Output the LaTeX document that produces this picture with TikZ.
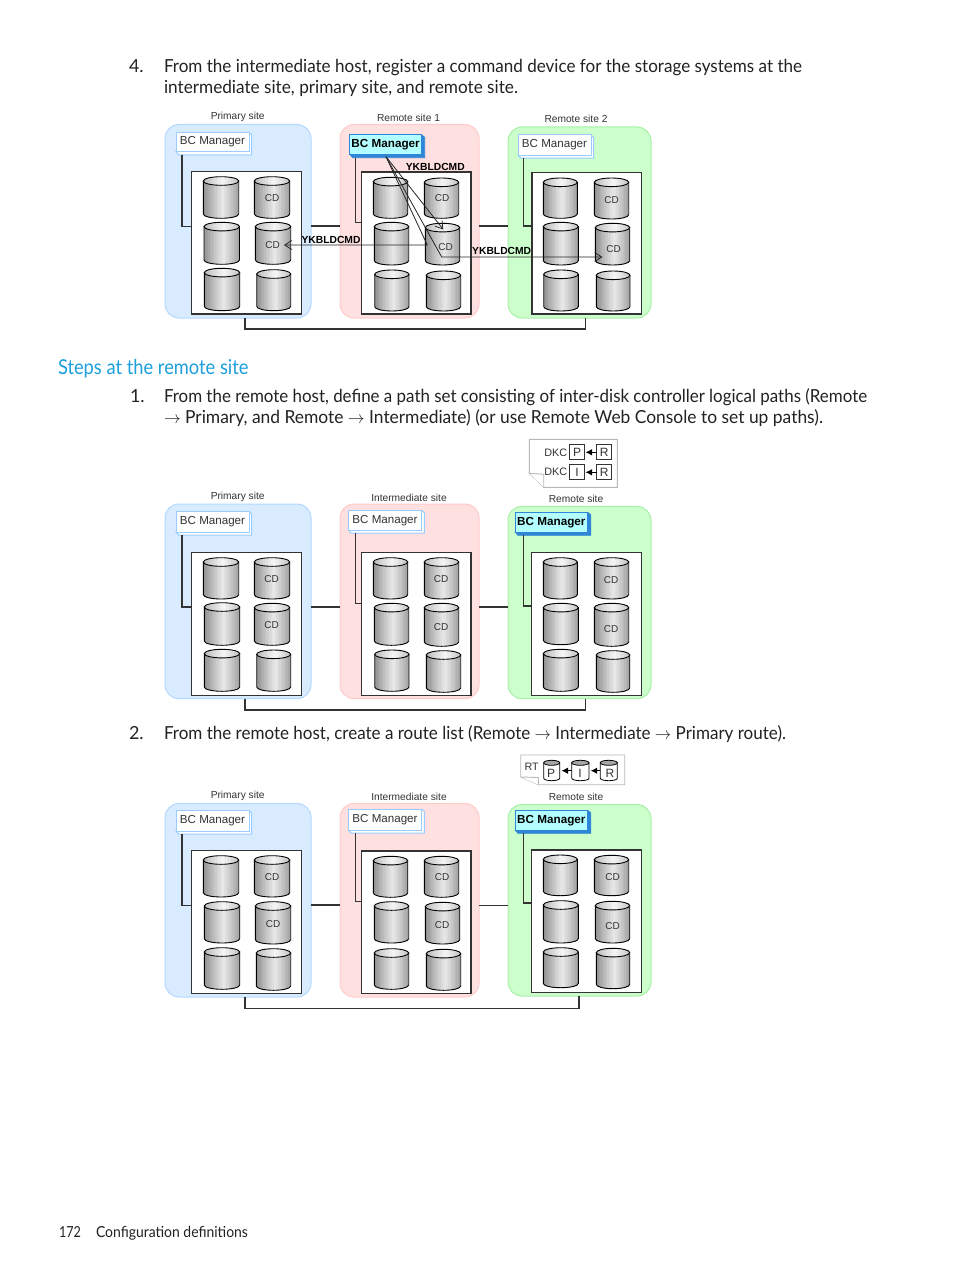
\documentclass[tikz,border=0pt]{standalone}
\usepackage{fontspec}
\usepackage{graphicx}
\usetikzlibrary{arrows.meta}
\setmainfont{Lato}
\newfontfamily\arialf{Liberation Sans}
\definecolor{txt}{HTML}{222222}
\definecolor{hpblue}{HTML}{1C9FDC}
\definecolor{linec}{HTML}{333333}
\tikzset{
  tl/.style={anchor=base west,inner sep=0pt,outer sep=0pt,text=txt,font=\fontsize{18}{18}\selectfont},
  site/.style={rounded corners=14pt,line width=1pt,inner sep=0pt,outer sep=0pt,anchor=north west},
  siteB/.style={site,fill=blueF,draw=blueD},
  siteR/.style={site,fill=redF,draw=redD},
  siteG/.style={site,fill=greenF,draw=greenD},
  inner/.style={draw=linec,fill=white,line width=1.2pt,inner sep=0pt,outer sep=0pt,anchor=north west},
  bcp/.style={draw=bcline,fill=white,line width=1pt,inner sep=0pt,outer sep=0pt,anchor=north west,text=linec,font=\arialf\fontsize{11.6}{12}\selectfont},
  bcb/.style={draw=bcdark,fill=bccyan,line width=.8pt,inner sep=0pt,outer sep=0pt,anchor=north west,text=black,font=\arialf\bfseries\fontsize{11.7}{12}\selectfont},
  slabel/.style={inner sep=0pt,text=linec,font=\arialf\fontsize{10.2}{11}\selectfont},
  cdl/.style={inner sep=0pt,text=linec,font=\arialf\fontsize{10}{11}\selectfont},
  ykb/.style={inner sep=0pt,text=black,font=\arialf\bfseries\fontsize{10.3}{11}\selectfont},
  cylline/.style={draw=black,line width=.9pt},
  sbody/.style={draw=black,line width=.8pt,fill=white},
  stop/.style={draw=black,line width=.8pt,fill=black!35},
  conn/.style={draw=linec,line width=1.1pt},
  linkthick/.style={draw=linec,line width=1.6pt},
  cmd/.style={draw=black!85,line width=.8pt},
  cmdarrow/.style={cmd,-{Straight Barb[length=7pt,width=9pt,line width=.8pt]}},
  note/.style={draw=black!28,line width=.9pt,fill=white},
  cell/.style={draw=linec,line width=.9pt,fill=white,inner sep=0pt,outer sep=0pt,minimum width=15pt,minimum height=15pt,text=linec,font=\arialf\fontsize{12}{12}\selectfont},
  solidarrow/.style={draw=black,line width=.9pt,-{Latex[length=6.5pt,width=6.5pt]},shorten >=1pt},
}
\definecolor{blueF}{HTML}{D9EBFF}
\definecolor{blueD}{HTML}{B4D9FF}
\definecolor{redF}{HTML}{FFE0E0}
\definecolor{redD}{HTML}{FFCACA}
\definecolor{greenF}{HTML}{CCFFCC}
\definecolor{greenD}{HTML}{A8F0A8}
\definecolor{bcline}{HTML}{99CCFF}
\definecolor{bcdark}{HTML}{2F86D6}
\definecolor{bccyan}{HTML}{B3FFFF}
% box node: style, name, x0, y0, x1, y1, text
\newcommand{\boxn}[7]{%
  \pgfmathsetmacro{\bw}{#5-#3}\pgfmathsetmacro{\bh}{#6-#4}%
  \node[#1,minimum width=\bw pt,minimum height=\bh pt] (#2) at (#3,#4) {#7};}
% vertical strips: x0 x1 y0 y1 edge-darkness peak-darkness
\newcommand{\stripes}[6]{%
  \foreach \i in {0,...,23}{%
    \pgfmathsetmacro{\tv}{\i/24}%
    \pgfmathsetmacro{\dd}{#6+(#5-#6)*pow(abs(\tv+0.02-0.55)/0.55,1.1)}%
    \pgfmathsetmacro{\xx}{#1+\tv*(#2-#1)}%
    \fill[black!\dd] (\xx,#3) rectangle (#2,#4);
  }}
% cylinder: ry, x0, x1, top, bottom
\newcommand{\dcyl}[5]{%
  \pgfmathsetmacro{\cx}{(#2+#3)/2}%
  \pgfmathsetmacro{\kx}{0.5523*(#3-#2)/2}%
  \pgfmathsetmacro{\ky}{0.5523*#1}%
  \pgfmathsetmacro{\ya}{#4+#1}%
  \pgfmathsetmacro{\yb}{#5-#1}%
  \pgfmathsetmacro{\yc}{#4+2*#1}%
  \def\bodyp{(#2,\ya) -- (#2,\yb) .. controls (#2,\yb+\ky) and (\cx-\kx,#5) .. (\cx,#5)
     .. controls (\cx+\kx,#5) and (#3,\yb+\ky) .. (#3,\yb) -- (#3,\ya) -- cycle}%
  \def\topp{(#2,\ya) .. controls (#2,\ya-\ky) and (\cx-\kx,#4) .. (\cx,#4)
     .. controls (\cx+\kx,#4) and (#3,\ya-\ky) .. (#3,\ya)
     .. controls (#3,\ya+\ky) and (\cx+\kx,\yc) .. (\cx,\yc)
     .. controls (\cx-\kx,\yc) and (#2,\ya+\ky) .. (#2,\ya) -- cycle}%
  \begin{scope}\clip \bodyp;\stripes{#2}{#3}{#4}{#5}{44}{9}\end{scope}
  \path[cylline] \bodyp;
  \begin{scope}\clip \topp;\stripes{#2}{#3}{#4}{#5}{28}{4}\end{scope}
  \path[cylline] \topp;}
\newcommand{\bigc}[4]{\dcyl{4.3}{#1}{#2}{#3}{#4}}
% small cylinder: x0 x1 top bottom
\newcommand{\smallc}[4]{%
  \pgfmathsetmacro{\cx}{(#1+#2)/2}%
  \pgfmathsetmacro{\kx}{0.5523*(#2-#1)/2}%
  \pgfmathsetmacro{\ya}{#3+2.5}%
  \pgfmathsetmacro{\yb}{#4-2.5}%
  \pgfmathsetmacro{\yc}{#3+5}%
  \path[sbody] (#1,\ya) -- (#1,\yb) .. controls (#1,\yb+1.4) and (\cx-\kx,#4) .. (\cx,#4)
     .. controls (\cx+\kx,#4) and (#2,\yb+1.4) .. (#2,\yb) -- (#2,\ya) -- cycle;
  \path[stop] (#1,\ya) .. controls (#1,\ya-1.4) and (\cx-\kx,#3) .. (\cx,#3)
     .. controls (\cx+\kx,#3) and (#2,\ya-1.4) .. (#2,\ya)
     .. controls (#2,\ya+1.4) and (\cx+\kx,\yc) .. (\cx,\yc)
     .. controls (\cx-\kx,\yc) and (#1,\ya+1.4) .. (#1,\ya) -- cycle;}
% plain BC manager: name x0 y0 x1 y1
\newcommand{\bcplain}[5]{%
  \pgfmathsetmacro{\xs}{#4+2.7}\pgfmathsetmacro{\ys}{#5+3.2}\pgfmathsetmacro{\xt}{#2+3}\pgfmathsetmacro{\yt}{#3+2.5}%
  \path[draw=bcline,fill=white,line width=1pt] (#4,#3) -- (\xs,\yt) -- (\xs,\ys) -- (\xt,\ys) -- (#2,#5) -- cycle;
  \boxn{bcp}{#1}{#2}{#3}{#4}{#5}{BC Manager}}
\newcommand{\bcbold}[5]{%
  \pgfmathsetmacro{\xs}{#4+3.2}\pgfmathsetmacro{\ys}{#5+3.4}\pgfmathsetmacro{\xt}{#2+3}\pgfmathsetmacro{\yt}{#3+2.5}%
  \path[draw=bcdark,fill=bcdark,line width=.6pt] (#4,#3) -- (\xs,\yt) -- (\xs,\ys) -- (\xt,\ys) -- (#2,#5) -- cycle;
  \boxn{bcb}{#1}{#2}{#3}{#4}{#5}{BC Manager}}
\newcommand{\arr}{$\rightarrow$}
\begin{document}
\begin{tikzpicture}[x=1pt,y=-1pt]
\useasboundingbox (0,0) rectangle (954,1271);
\fill[white] (0,0) rectangle (954,1271);
% ---------- text ----------
\node[tl] (n4) at (129,73) {4.};
\node[tl] (t1) at (164,73) {\resizebox{638pt}{\height}{From the intermediate host, register a command device for the storage systems at the}};
\node[tl] (t2) at (164,94) {\resizebox{354pt}{\height}{intermediate site, primary site, and remote site.}};
\node[tl,text=hpblue,font=\fontsize{20.5}{21}\selectfont] (h1) at (58,374.5) {\resizebox{190.5pt}{\height}{Steps at the remote site}};
\node[tl] (n1) at (130,402) {1.};
\node[tl] (t3) at (164,402) {\resizebox{703pt}{\height}{From the remote host, define a path set consisting of inter-disk controller logical paths (Remote}};
\node[tl] (t4) at (164,423) {\resizebox{659pt}{\height}{\arr{} Primary, and Remote \arr{} Intermediate) (or use Remote Web Console to set up paths).}};
\node[tl] (n2) at (129,739) {2.};
\node[tl] (t5) at (164,739) {\resizebox{622pt}{\height}{From the remote host, create a route list (Remote \arr{} Intermediate \arr{} Primary route).}};
\node[tl,font=\fontsize{15.2}{16}\selectfont] (pg) at (59,1237.5) {\resizebox{22pt}{\height}{172}};
\node[tl,font=\fontsize{15.2}{16}\selectfont] (ft) at (96,1237.5) {\resizebox{152pt}{\height}{Configuration definitions}};
% ========== PANEL 1 ==========
\node[slabel] (l1a) at (237.7,117) {Primary site};
\node[slabel] (l1b) at (408.5,117.5) {Remote site 1};
\node[slabel] (l1c) at (576,118.5) {Remote site 2};
\boxn{siteB}{s1a}{165}{124.5}{311}{318}{}
\boxn{siteR}{s1b}{340}{124.5}{479}{318}{}
\boxn{siteG}{s1c}{508}{127}{651}{318}{}
\draw[linkthick] (s1a.east |- 0,226) -- (s1b.west |- 0,226);
\draw[linkthick] (s1b.east |- 0,226) -- (s1c.west |- 0,226);
\coordinate (b1a) at (245,318); \coordinate (b1c) at (585.3,318);
\draw[linkthick] (b1a) -- (245,329) -- (585.3,329) -- (b1c);
\boxn{inner}{i1a}{191.5}{171.5}{301.5}{314}{}
\boxn{inner}{i1b}{361.5}{172}{471}{314}{}
\boxn{inner}{i1c}{532}{172.5}{641.3}{314}{}
\bcplain{m1a}{176}{132.3}{249}{151.7}
\bcbold{m1b}{349.7}{134.7}{421.5}{154.3}
\bcplain{m1c}{518}{135}{591}{155}
\coordinate (c1a) at (182,155); \coordinate (c1b) at (355.7,157.5); \coordinate (c1c) at (523.3,158);
\draw[conn] (c1a) |- (i1a.west |- 0,226.5);
\draw[conn] (c1b) |- (i1b.west |- 0,222.7);
\draw[conn] (c1c) |- (i1c.west |- 0,226);
\bigc{203.3}{238.7}{176.7}{218.3}\bigc{254.3}{289.7}{176.7}{218.3}
\bigc{204}{239.5}{222.3}{264.3}\bigc{255.3}{290.7}{222.3}{264.3}
\bigc{204.3}{239.7}{268.3}{310.7}\bigc{256.7}{290.7}{269.7}{310.7}
\bigc{373.3}{407.7}{177.3}{218.3}\bigc{424.3}{458.7}{178}{218.3}
\bigc{374.3}{408.7}{222.3}{265}\bigc{425.3}{459.7}{223.3}{265}
\bigc{374.7}{409}{270}{311}\bigc{426.3}{460.7}{271}{311}
\bigc{543.3}{577.3}{178}{218.3}\bigc{594.3}{628.7}{178}{219}
\bigc{543.3}{578.3}{222.3}{265}\bigc{595.3}{629.7}{223.3}{265}
\bigc{543.7}{578.3}{270}{311}\bigc{596.3}{630}{271}{311}
\node[cdl] (cd1) at (272,198.5) {CD};
\node[cdl] (cd2) at (272.7,245) {CD};
\node[cdl] (cd3) at (442,198.5) {CD};
\node[cdl] (cd4) at (445.7,247) {CD};
\node[cdl] (cd5) at (611.7,199.8) {CD};
\node[cdl] (cd6) at (613.7,248.8) {CD};
\coordinate (src) at (386,156.7);
\coordinate (ta) at (443.3,229.5);
\coordinate (tb) at (427.3,245);
\coordinate (tc) at (441.7,257);
\coordinate (tlft) at (284,245);
\coordinate (trgt) at (602.5,257);
\draw[cmdarrow] (src) -- (ta);
\draw[cmdarrow] (src) -- (tb) -- (tlft);
\draw[cmdarrow] (src) -- (tc) -- (trgt);
\node[ykb] (y1) at (435.3,166.8) {YKBLDCMD};
\node[ykb] (y2) at (331,239.8) {YKBLDCMD};
\node[ykb] (y3) at (501.7,251.2) {YKBLDCMD};
% ========== PANEL 2 ==========
\path[note] (529.3,439.3) -- (617.3,439.3) -- (617.3,487.3) -- (543.7,487.3) -- (529.3,473.3) -- cycle;
\path[note] (529.3,473.3) -- (543.7,474.3) -- (543.7,487.3);
\node[cdl,font=\arialf\fontsize{10.8}{11}\selectfont] (d1) at (555.7,452.5) {DKC};
\node[cdl,font=\arialf\fontsize{10.8}{11}\selectfont] (d2) at (555.7,472.2) {DKC};
\node[cell] (p1) at (577,452.3) {P};
\node[cell] (r1) at (604.3,452.3) {R};
\node[cell] (p2) at (577,472.3) {I};
\node[cell] (r2) at (604.3,472.3) {R};
\draw[solidarrow] (r1) -- (p1);
\draw[solidarrow] (r2) -- (p2);
\node[slabel] (l2a) at (237.7,497) {Primary site};
\node[slabel] (l2b) at (409,497.5) {Intermediate site};
\node[slabel] (l2c) at (576,498.5) {Remote site};
\boxn{siteB}{s2a}{165}{504}{311}{698.7}{}
\boxn{siteR}{s2b}{340}{504}{479}{698.7}{}
\boxn{siteG}{s2c}{508}{506.3}{651}{698.7}{}
\draw[linkthick] (s2a.east |- 0,607) -- (s2b.west |- 0,607);
\draw[linkthick] (s2b.east |- 0,607) -- (s2c.west |- 0,607);
\coordinate (b2a) at (245,698.7); \coordinate (b2c) at (585.3,698.7);
\draw[linkthick] (b2a) -- (245,710) -- (585.3,710) -- (b2c);
\boxn{inner}{i2a}{191.5}{552.3}{301.5}{695.3}{}
\boxn{inner}{i2b}{361.5}{552.7}{471}{695.3}{}
\boxn{inner}{i2c}{531.7}{552.7}{641.3}{695.3}{}
\bcplain{m2a}{176}{511.7}{249}{532}
\bcplain{m2b}{348.3}{510.3}{421.7}{530}
\bcbold{m2c}{515}{512.3}{587.7}{532}
\coordinate (c2a) at (182,535); \coordinate (c2b) at (355.7,533); \coordinate (c2c) at (523.3,535);
\draw[conn] (c2a) |- (i2a.west |- 0,607);
\draw[conn] (c2b) |- (i2b.west |- 0,603.3);
\draw[conn] (c2c) |- (i2c.west |- 0,606);
\bigc{203.3}{238.7}{557.7}{599}\bigc{254.3}{289.7}{557.7}{599}
\bigc{204.3}{239.7}{602.7}{645.3}\bigc{254.3}{289.7}{603.3}{645.3}
\bigc{204.3}{239.7}{649.3}{691.3}\bigc{256.7}{290.7}{650}{691.3}
\bigc{373.3}{407.7}{557.7}{599}\bigc{424.3}{458.7}{557.7}{599}
\bigc{374.3}{408.7}{603.3}{645.3}\bigc{424.3}{458.7}{603.3}{646.3}
\bigc{374.7}{409}{650}{691.3}\bigc{426.3}{460.7}{650.7}{692.3}
\bigc{543.3}{577.3}{557.7}{599}\bigc{594.3}{628.7}{557.7}{599}
\bigc{543.3}{578.3}{603.3}{644.7}\bigc{594.3}{628.7}{603.3}{646.3}
\bigc{543.3}{578.3}{649.3}{691.3}\bigc{596.3}{629.7}{650.7}{692.3}
\node[cdl] (cd7) at (271.5,579.5) {CD};
\node[cdl] (cd8) at (271.5,625.5) {CD};
\node[cdl] (cd9) at (441,579.5) {CD};
\node[cdl] (cd10) at (441,627.5) {CD};
\node[cdl] (cd11) at (611,580.5) {CD};
\node[cdl] (cd12) at (611,629) {CD};
% ========== PANEL 3 ==========
\path[note] (520.7,755) -- (624.7,755) -- (624.7,784.7) -- (538.3,784.7) -- (520.7,777) -- cycle;
\path[note] (520.7,777) -- (538.3,777.5) -- (538.3,784.7);
\node[cdl,font=\arialf\fontsize{10.8}{11}\selectfont] (rt) at (531.7,766.5) {RT};
\smallc{543.7}{559.7}{760.3}{780.7}
\smallc{571.7}{589}{760.3}{780.7}
\smallc{600.3}{617.3}{760.3}{780.7}
\node[cdl,font=\arialf\fontsize{12}{12}\selectfont] (sp) at (551,773.5) {P};
\node[cdl,font=\arialf\fontsize{12}{12}\selectfont] (si) at (580,773.5) {I};
\node[cdl,font=\arialf\fontsize{12}{12}\selectfont] (sr) at (610,773.5) {R};
\coordinate (qa) at (560.5,770.7); \coordinate (qb) at (571.7,770.7); \coordinate (qc) at (589.7,770.7); \coordinate (qd) at (600.3,770.7);
\draw[solidarrow] (qb) -- (qa);
\draw[solidarrow] (qd) -- (qc);
\node[slabel] (l3a) at (237.7,796) {Primary site};
\node[slabel] (l3b) at (409,796.5) {Intermediate site};
\node[slabel] (l3c) at (576,797) {Remote site};
\boxn{siteB}{s3a}{165}{803.5}{311}{997}{}
\boxn{siteR}{s3b}{340}{803.5}{479}{997}{}
\boxn{siteG}{s3c}{508}{804.5}{651}{996}{}
\draw[linkthick] (s3a.east |- 0,905) -- (s3b.west |- 0,905);
\draw[conn] (s3b.east |- 0,905.5) -- (s3c.west |- 0,905.5);
\coordinate (b3a) at (245,997); \coordinate (b3c) at (578.7,996);
\draw[linkthick] (b3a) -- (245,1008.3) -- (578.7,1008.3) -- (b3c);
\boxn{inner}{i3a}{191.5}{850.7}{301.5}{993.3}{}
\boxn{inner}{i3b}{361.5}{851}{471}{993.7}{}
\boxn{inner}{i3c}{531.7}{850}{641.3}{992.3}{}
\bcplain{m3a}{176}{810.5}{249}{831}
\bcplain{m3b}{348.3}{809.3}{421.7}{830}
\bcbold{m3c}{515}{810.3}{587.7}{830}
\coordinate (c3a) at (182,834); \coordinate (c3b) at (355.7,833); \coordinate (c3c) at (523.3,833);
\draw[conn] (c3a) |- (i3a.west |- 0,905.3);
\draw[conn] (c3b) |- (i3b.west |- 0,901.7);
\draw[conn] (c3c) |- (i3c.west |- 0,903);
\bigc{203.3}{238.7}{855.7}{897}\bigc{254.3}{289.7}{855.7}{897}
\bigc{204.3}{239.7}{901.7}{943}\bigc{255.3}{290.7}{901.7}{944}
\bigc{204.3}{239.7}{947.7}{989.3}\bigc{256.3}{290.7}{948.7}{990.3}
\bigc{373.3}{407.7}{856.3}{897.3}\bigc{424.3}{458.7}{856.3}{897.3}
\bigc{374.3}{408.7}{901.7}{943}\bigc{425.3}{459.7}{902.3}{944}
\bigc{374.3}{408.7}{948.7}{989.3}\bigc{426.3}{460.7}{949.3}{990.3}
\bigc{543.3}{577.3}{855}{895.7}\bigc{594.3}{628.7}{855.3}{895.7}
\bigc{543.3}{578.3}{900.7}{943}\bigc{595.3}{629.7}{901.3}{943}
\bigc{543.3}{578.3}{947.7}{987.7}\bigc{596.3}{629.7}{948.3}{988.7}
\node[cdl] (cd13) at (272,877.5) {CD};
\node[cdl] (cd14) at (273,924.5) {CD};
\node[cdl] (cd15) at (442,877.5) {CD};
\node[cdl] (cd16) at (442,925.5) {CD};
\node[cdl] (cd17) at (612.5,877.5) {CD};
\node[cdl] (cd18) at (612.5,926.5) {CD};
\end{tikzpicture}
\end{document}
